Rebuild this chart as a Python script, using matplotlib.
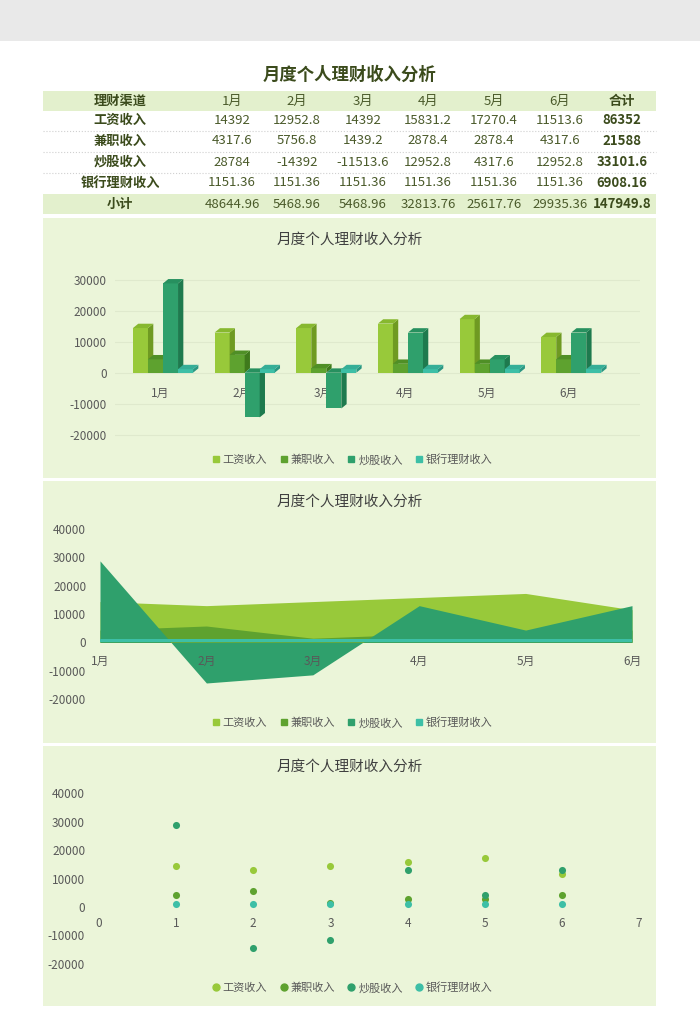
import numpy as np
import matplotlib
matplotlib.use("Agg")
from matplotlib import pyplot as plt
from matplotlib.patches import Rectangle, Polygon
from matplotlib.lines import Line2D

plt.rcParams['font.family'] = ['Noto Sans CJK SC', 'DejaVu Sans']
plt.rcParams['axes.unicode_minus'] = False

#============================================================
# Data
#============================================================

title = '月度个人理财收入分析'
months = ['1月', '2月', '3月', '4月', '5月', '6月']
series_names = ['工资收入', '兼职收入', '炒股收入', '银行理财收入']

salary   = [14392, 12952.8, 14392, 15831.2, 17270.4, 11513.6]
parttime = [4317.6, 5756.8, 1439.2, 2878.4, 2878.4, 4317.6]
stock    = [28784, -14392, -11513.6, 12952.8, 4317.6, 12952.8]
bank     = [1151.36, 1151.36, 1151.36, 1151.36, 1151.36, 1151.36]

header_label   = '理财渠道'
total_label    = '合计'
subtotal_label = '小计'

yticks_bar     = [-20000, -10000, 0, 10000, 20000, 30000]
yticks_area    = [-20000, -10000, 0, 10000, 20000, 30000, 40000]
xticks_scatter = [0, 1, 2, 3, 4, 5, 6, 7]

front_colors = ['#98c93a', '#5ea22f', '#2fa06c', '#3dbfa6']
side_colors  = ['#6f9a22', '#3f7a1c', '#1e7a4e', '#2a9682']
top_colors   = ['#87b82f', '#4f8f26', '#27905f', '#35ae97']

series = [salary, parttime, stock, bank]

def fmt(v):
    return ('%.2f' % v).rstrip('0').rstrip('.')

#============================================================
# Figure / background
#============================================================

W, H = 700, 1030
fig = plt.figure(figsize=(7, 10.3), dpi=100)
bg = fig.add_axes([0, 0, 1, 1])
bg.set_xlim(0, W)
bg.set_ylim(H, 0)
bg.axis('off')

def px_axes(x0, y0, x1, y1):
    ax = fig.add_axes([x0/W, 1-y1/H, (x1-x0)/W, (y1-y0)/H])
    ax.set_facecolor('none')
    for s in ax.spines.values():
        s.set_visible(False)
    ax.tick_params(length=0, labelsize=8.5, labelcolor='#595959')
    return ax

band   = '#e3f0cd'
panel  = '#ebf5d9'
dark   = '#3b4b1c'
txt    = '#4a5a2a'

bg.add_patch(Rectangle((0, 0), W, 41, color='#e9e9e9', lw=0))

# table
bg.add_patch(Rectangle((43, 91), 613, 20, color=band, lw=0))
bg.add_patch(Rectangle((43, 194), 613, 20, color=band, lw=0))
for y in [131, 152, 173]:
    bg.plot([43, 656], [y, y], color='#d0d0d0', lw=0.8, ls=':')

bg.text(350, 75, title, ha='center', va='center', fontsize=12.5,
        weight='bold', color=dark)

col_x = [120, 232, 297, 363, 428, 494, 560, 622]
row_y = [120, 141, 162, 183]

bg.text(col_x[0], 101, header_label, ha='center', va='center', fontsize=9.5, weight='bold', color=dark)
for j, m in enumerate(months):
    bg.text(col_x[j+1], 101, m, ha='center', va='center', fontsize=9.5, color=txt)
bg.text(col_x[-1], 101, total_label, ha='center', va='center', fontsize=9.5, weight='bold', color=dark)

for i, (name, vals) in enumerate(zip(series_names, series)):
    y = row_y[i]
    bg.text(col_x[0], y, name, ha='center', va='center', fontsize=9.5, weight='bold', color=dark)
    for j, v in enumerate(vals):
        bg.text(col_x[j+1], y, fmt(v), ha='center', va='center', fontsize=9.5, color=txt)
    bg.text(col_x[-1], y, fmt(sum(vals)), ha='center', va='center', fontsize=9.5, weight='bold', color=dark)

subtotals = [sum(s[j] for s in series) for j in range(len(months))]
bg.text(col_x[0], 204, subtotal_label, ha='center', va='center', fontsize=9.5, weight='bold', color=dark)
for j, v in enumerate(subtotals):
    bg.text(col_x[j+1], 204, fmt(v), ha='center', va='center', fontsize=9.5, color=txt)
bg.text(col_x[-1], 204, fmt(round(sum(subtotals), 1)), ha='center', va='center',
        fontsize=9.5, weight='bold', color=dark)

# chart panels
for y0, y1 in [(218, 478), (481, 743), (746, 1006)]:
    bg.add_patch(Rectangle((43, y0), 613, y1-y0, color=panel, lw=0))

def chart_title(y):
    fig.text(350/W, 1-y/H, title, ha='center', va='center', fontsize=10.5,
             color='#404040', weight='medium')

def chart_legend(ax, y, marker):
    handles = [Line2D([], [], marker=marker, ls='none', color=c, markersize=5)
               for c in front_colors]
    ax.legend(handles, series_names, loc='center', ncol=4, frameon=False,
              bbox_to_anchor=(352/W, 1-y/H), bbox_transform=fig.transFigure,
              fontsize=8, labelcolor='#595959', handlelength=0.8,
              handletextpad=0.2, columnspacing=1.1)

x = np.arange(len(months))

#============================================================
# Chart 1: 3D-look clustered bars
#============================================================

ax1 = px_axes(115, 261, 640, 441)
ax1.set_xlim(-0.55, 5.88)
ax1.set_ylim(-22000, 36000)
ax1.set_yticks(yticks_bar)
ax1.yaxis.grid(True, color='#dfe9cd', lw=0.8)
ax1.set_axisbelow(True)
ax1.spines['bottom'].set_position(('data', 0))
ax1.set_xticks(x)
ax1.set_xticklabels(months)
ax1.tick_params(axis='x', pad=10)
ax1.tick_params(axis='y', pad=6)

bar_w   = 0.184
depth_x = 0.065
depth_y = 1400
group_start = -0.33

for i, vals in enumerate(series):
    xs = x + group_start + i*bar_w
    z = 3 + i
    ax1.bar(xs, vals, width=bar_w, align='edge', color=front_colors[i],
            zorder=z, linewidth=0)
    for xb, v in zip(xs, vals):
        lo, hi = min(0, v), max(0, v)
        ax1.add_patch(Polygon([(xb+bar_w, lo), (xb+bar_w+depth_x, lo+depth_y),
                               (xb+bar_w+depth_x, hi+depth_y), (xb+bar_w, hi)],
                              closed=True, color=side_colors[i], lw=0, zorder=z))
        ax1.add_patch(Polygon([(xb, hi), (xb+depth_x, hi+depth_y),
                               (xb+bar_w+depth_x, hi+depth_y), (xb+bar_w, hi)],
                              closed=True, color=top_colors[i], lw=0, zorder=z))

chart_title(240)
chart_legend(ax1, 460, 's')

#============================================================
# Chart 2: area
#============================================================

ax2 = px_axes(100, 515, 632, 713)
ax2.set_xlim(0, 5)
ax2.set_ylim(-25000, 45000)
ax2.set_yticks(yticks_area)
ax2.spines['bottom'].set_position(('data', 0))
ax2.set_xticks(x)
ax2.set_xticklabels(months)
ax2.tick_params(axis='x', pad=9)
ax2.tick_params(axis='y', pad=10)

for i, vals in enumerate(series):
    ax2.fill_between(x, 0, vals, color=front_colors[i], lw=0, zorder=1 + 0.1*i)

chart_title(502)
chart_legend(ax2, 723, 's')

#============================================================
# Chart 3: scatter
#============================================================

ax3 = px_axes(99, 779, 639, 978)
ax3.set_xlim(0, 7)
ax3.set_ylim(-25000, 45000)
ax3.set_yticks(yticks_area)
ax3.spines['bottom'].set_position(('data', 0))
ax3.set_xticks(xticks_scatter)
ax3.tick_params(axis='x', pad=7)
ax3.tick_params(axis='y', pad=10)

for i, vals in enumerate(series):
    ax3.scatter(x + 1, vals, s=26, color=front_colors[i], lw=0, zorder=3+i)

chart_title(767)
chart_legend(ax3, 988, 'o')

fig.savefig('out.png', dpi=100)
